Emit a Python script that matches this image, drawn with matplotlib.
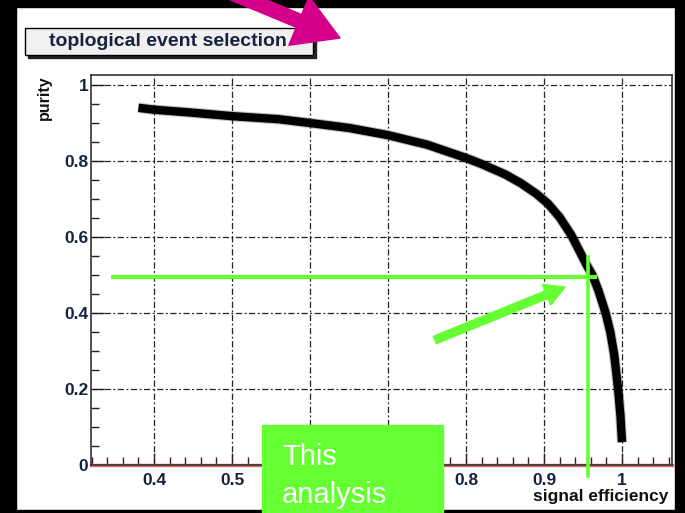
import numpy as np
import matplotlib
matplotlib.use('Agg')
import matplotlib.pyplot as plt
from matplotlib.patches import Rectangle
from matplotlib.ticker import MultipleLocator, FuncFormatter

plt.rcParams['font.family'] = ['Liberation Sans', 'DejaVu Sans']

#### data
eff = [0.38, 0.40, 0.45, 0.50, 0.56, 0.60, 0.65, 0.70, 0.75, 0.80,
       0.82, 0.85, 0.87, 0.89, 0.905, 0.92, 0.935, 0.945, 0.955, 0.962,
       0.970, 0.979, 0.985, 0.990, 0.995, 0.998, 1.0]
pur = [0.940, 0.935, 0.927, 0.918, 0.910, 0.900, 0.887, 0.868, 0.843, 0.808,
       0.792, 0.765, 0.742, 0.714, 0.688, 0.652, 0.605, 0.565, 0.525, 0.500,
       0.458, 0.400, 0.350, 0.290, 0.200, 0.130, 0.060]

title = 'toplogical event selection'
xlab = 'signal efficiency'
ylab = 'purity'

# green working point marks (data coords)
wp_pur = 0.495
wp_eff = 0.956
hline_x = [0.347, 0.965]
vline_y = [0.547, -0.03]
garrow_from = (0.760, 0.329)
garrow_to = (0.927, 0.468)
box_text = ['This', 'analysis']

# slide decorations (pixel coords of the 685x513 slide)
magenta_from = (215, -14)
magenta_to = (340, 38)

green = '#66ff33'
navy = '#16223f'

fig = plt.figure(figsize=(6.85, 5.13), dpi=100)
fig.patch.set_facecolor('white')
ax = fig.add_axes([91/685, 48/513, 581/685, 390/513])

ax.plot(eff, pur, color='black', lw=7.5, alpha=0.25, solid_capstyle='butt', zorder=3)
ax.plot(eff, pur, color='black', lw=6, solid_capstyle='butt', solid_joinstyle='round', zorder=4)

ax.set_xlim(0.3192, 1.0641)
ax.set_ylim(0, 1.0263)
ax.xaxis.set_major_locator(MultipleLocator(0.1))
ax.xaxis.set_minor_locator(MultipleLocator(0.02))
ax.yaxis.set_major_locator(MultipleLocator(0.2))
ax.yaxis.set_minor_locator(MultipleLocator(0.05))
fmt = FuncFormatter(lambda v, p: '%g' % round(v, 2))
ax.xaxis.set_major_formatter(fmt)
ax.yaxis.set_major_formatter(fmt)
ax.tick_params(which='both', direction='in', top=False, right=False, color='#222')
ax.tick_params(which='major', length=9, width=1)
ax.tick_params(which='minor', length=6, width=1)
ax.tick_params(axis='x', pad=6, labelsize=12.5, labelcolor=navy)
ax.tick_params(axis='y', pad=2, labelsize=12.5, labelcolor=navy)
for lab in ax.get_xticklabels() + ax.get_yticklabels():
    lab.set_fontweight('bold')
ax.grid(True, which='major', color='#222', lw=0.9, linestyle=(0, (5, 2, 1.5, 2)))
for s in ax.spines.values():
    s.set_color('#333')
    s.set_linewidth(1.2)
ax.axhline(0, color='#e87070', lw=2.5, zorder=2, clip_on=False)

ax.set_xlabel(xlab, fontsize=12.5, fontweight='bold', color='#111', ha='right', va='center')
ax.xaxis.set_label_coords(0.993, -0.082)
ax.set_ylabel(ylab, fontsize=11.5, fontweight='bold', color='#111', ha='center', va='center')
ax.yaxis.set_label_coords(-0.081, 0.941)

# green working point
ax.plot(hline_x, [wp_pur, wp_pur], color=green, lw=3, zorder=6, clip_on=False)
ax.plot([wp_eff, wp_eff], vline_y, color=green, lw=2.6, zorder=6, clip_on=False)
ax.annotate('', xy=garrow_to, xytext=garrow_from,
            arrowprops=dict(arrowstyle='simple,head_length=0.9,head_width=1.0,tail_width=0.36',
                            color=green, mutation_scale=16, shrinkA=0, shrinkB=0), zorder=6)

# overlay in slide pixels
ov = fig.add_axes([0, 0, 1, 1], zorder=10)
ov.set_xlim(0, 685)
ov.set_ylim(513, 0)
ov.axis('off')
ov.patch.set_alpha(0)

ov.add_patch(Rectangle((28, 31), 288, 27, color='#222'))
ov.add_patch(Rectangle((25, 28), 288, 27, facecolor='#f0f0f0', edgecolor='black', lw=1))
ov.text(168, 42, title, fontsize=14, fontweight='bold', color=navy, ha='center', va='center')

ov.annotate('', xy=magenta_to, xytext=magenta_from,
            arrowprops=dict(arrowstyle='simple,head_length=1.6,head_width=1.9,tail_width=0.5',
                            color='#d4008c', mutation_scale=20, shrinkA=0, shrinkB=0))

# black slide frame
ov.add_patch(Rectangle((0, 0), 685, 7, color='black'))
ov.add_patch(Rectangle((0, 0), 16, 513, color='black'))
ov.add_patch(Rectangle((675, 0), 10, 513, color='black'))
ov.add_patch(Rectangle((0, 510), 685, 3, color='black'))

# green box
ov.add_patch(Rectangle((262, 425), 181, 88, color=green))
ov.text(282, 465, box_text[0], fontsize=21, color='white', ha='left', va='baseline')
ov.text(282, 503, box_text[1], fontsize=21, color='white', ha='left', va='baseline')

fig.savefig('out.png', dpi=100, facecolor=fig.get_facecolor())
